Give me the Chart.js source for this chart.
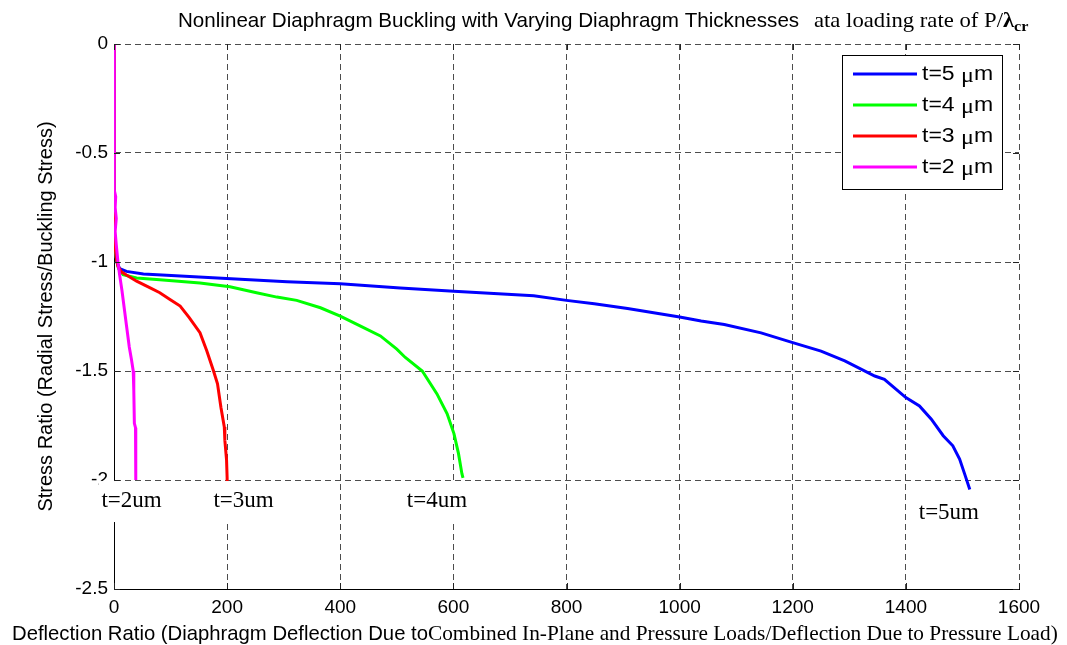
<!DOCTYPE html>
<html>
<head>
<meta charset="utf-8">
<script src="https://cdn.jsdelivr.net/npm/chart.js@4.4.0/dist/chart.umd.min.js"></script>
<style>
  html, body { margin: 0; padding: 0; background: #ffffff; }
  #wrap { width: 1067px; height: 645px; position: relative; }
  canvas { display: block; }
</style>
</head>
<body>
<div id="wrap"><canvas id="c" width="1067" height="645"></canvas></div>
<script>
// Deflection ratio (x) and stress ratio (y) for each diaphragm thickness
const t5Deflection = [0, 0, 0.5, 2, 5, 10, 22, 52, 93, 199, 306, 400, 506, 601, 742, 800, 849, 908, 1000, 1038, 1079, 1144, 1200, 1250, 1292, 1345, 1362, 1400, 1424, 1445, 1466, 1483, 1495, 1504, 1513];
const t5Stress     = [0, -0.5, -0.88, -0.95, -1.0, -1.03, -1.043, -1.055, -1.061, -1.076, -1.091, -1.100, -1.119, -1.134, -1.155, -1.176, -1.192, -1.213, -1.252, -1.271, -1.287, -1.325, -1.370, -1.409, -1.454, -1.523, -1.538, -1.622, -1.660, -1.721, -1.797, -1.843, -1.904, -1.973, -2.044];

const t4Deflection = [0, 0, 0.5, 2, 4, 8, 16, 40, 81, 152, 205, 252, 288, 323, 365, 400, 435, 471, 500, 515, 545, 571, 589, 601, 609, 615, 617];
const t4Stress     = [0, -0.5, -0.85, -0.93, -0.98, -1.03, -1.058, -1.073, -1.081, -1.096, -1.114, -1.141, -1.161, -1.176, -1.21, -1.248, -1.293, -1.339, -1.4, -1.438, -1.5, -1.605, -1.696, -1.787, -1.878, -1.97, -1.99];

const t3Deflection = [0, 0, 0.5, 2, 4, 7, 13, 22, 40, 64, 81, 99, 117, 133, 152, 164, 176, 183, 189, 195, 196, 199, 200, 200];
const t3Stress     = [0, -0.5, -0.85, -0.93, -0.98, -1.02, -1.045, -1.06, -1.088, -1.119, -1.141, -1.172, -1.202, -1.255, -1.324, -1.407, -1.5, -1.559, -1.666, -1.757, -1.818, -1.909, -1.99, -2.01];

const t2Deflection = [0, 0, 1, 3, 2, 4, 2, 4, 7, 10, 14, 18, 22, 27, 31, 34, 35, 36, 38, 38.5, 38.5];
const t2Stress     = [0, -0.5, -0.67, -0.70, -0.75, -0.80, -0.86, -0.92, -1.0, -1.06, -1.13, -1.21, -1.29, -1.39, -1.45, -1.5, -1.59, -1.74, -1.76, -1.9, -2.0];

const seriesLabels = ['t=5 μm', 't=4 μm', 't=3 μm', 't=2 μm'];
const seriesColors = ['#0000ff', '#00ff00', '#ff0000', '#ff00ff'];

const xTickValues = [0, 200, 400, 600, 800, 1000, 1200, 1400, 1600];
const yTickValues = [0, -0.5, -1, -1.5, -2, -2.5];

// Text tags placed below the end of each curve (data coordinates)
const tagTexts = ['t=2um', 't=3um', 't=4um', 't=5um'];
const tagX     = [31, 229, 571, 1476];
const tagY     = [-2.124, -2.124, -2.124, -2.179];

const SANS = '"Liberation Sans", Arial, sans-serif';
const SERIF = '"Liberation Serif", "Times New Roman", serif';

function toPoints(xs, ys) {
  return xs.map((x, i) => ({ x: x, y: ys[i] }));
}

const seriesData = [
  toPoints(t5Deflection, t5Stress),
  toPoints(t4Deflection, t4Stress),
  toPoints(t3Deflection, t3Stress),
  toPoints(t2Deflection, t2Stress)
];

const datasets = seriesData.map((pts, i) => ({
  label: seriesLabels[i],
  data: pts,
  borderColor: seriesColors[i],
  backgroundColor: seriesColors[i],
  borderWidth: 3,
  pointRadius: 0,
  tension: 0,
  fill: false,
  // later series are painted over earlier ones
  order: seriesLabels.length - i
}));

// draw a run of mixed-font segments starting at (x, y) on the baseline;
// sx stretches a segment horizontally
function drawRuns(ctx, runs, x, y) {
  let cx = x;
  runs.forEach(r => {
    const sx = r.sx || 1;
    ctx.font = r.font;
    ctx.save();
    ctx.translate(cx, y + (r.dy || 0));
    ctx.scale(sx, 1);
    ctx.fillText(r.text, 0, 0);
    ctx.restore();
    cx += ctx.measureText(r.text).width * sx;
  });
  return cx;
}

const decorPlugin = {
  id: 'decor',
  afterDraw(chart) {
    const ctx = chart.ctx;
    const area = chart.chartArea;
    const xs = chart.scales.x, ys = chart.scales.y;
    ctx.save();
    ctx.fillStyle = '#000';
    ctx.textAlign = 'left';
    ctx.textBaseline = 'alphabetic';

    // inward tick marks on all four sides
    ctx.strokeStyle = '#222';
    ctx.lineWidth = 1;
    ctx.setLineDash([]);
    const tl = 6;
    xTickValues.forEach(v => {
      const px = Math.round(xs.getPixelForValue(v)) + 0.5;
      ctx.beginPath();
      ctx.moveTo(px, area.bottom); ctx.lineTo(px, area.bottom - tl);
      ctx.moveTo(px, area.top); ctx.lineTo(px, area.top + tl);
      ctx.stroke();
    });
    yTickValues.forEach(v => {
      const py = Math.round(ys.getPixelForValue(v)) + 0.5;
      ctx.beginPath();
      ctx.moveTo(area.left, py); ctx.lineTo(area.left + tl, py);
      ctx.moveTo(area.right, py); ctx.lineTo(area.right - tl, py);
      ctx.stroke();
    });

    // tags under each curve, on a white box
    ctx.font = '23px ' + SERIF;
    tagTexts.forEach((t, i) => {
      const cx = xs.getPixelForValue(tagX[i]);
      const by = ys.getPixelForValue(tagY[i]);
      const w = ctx.measureText(t).width;
      ctx.fillStyle = '#fff';
      ctx.fillRect(cx - w / 2 - 3, by - 26, w + 6, 41);
      ctx.fillStyle = '#000';
      ctx.fillText(t, cx - w / 2, by);
    });

    // title
    drawRuns(ctx, [
      { text: 'Nonlinear Diaphragm Buckling with Varying Diaphragm Thicknesses', font: '20.6px ' + SANS }
    ], 178, 27);
    drawRuns(ctx, [
      { text: 'ata loading rate of P/', font: '21px ' + SERIF, sx: 1.08 },
      { text: 'λ', font: 'bold 21px ' + SERIF, sx: 1.08 },
      { text: 'cr', font: 'bold 15px ' + SERIF, dy: 4, sx: 1.08 }
    ], 814, 27);

    // x axis title
    const ex = drawRuns(ctx, [
      { text: 'Deflection Ratio (Diaphragm Deflection Due to', font: '20.3px ' + SANS }
    ], 12, 640);
    drawRuns(ctx, [
      { text: 'Combined In-Plane and Pressure Loads/Deflection Due to Pressure Load)', font: '21px ' + SERIF, sx: 1.015 }
    ], ex, 640);

    // y axis title
    ctx.save();
    ctx.translate(52, (area.top + area.bottom) / 2);
    ctx.rotate(-Math.PI / 2);
    ctx.textAlign = 'center';
    ctx.font = '20px ' + SANS;
    ctx.fillText('Stress Ratio (Radial Stress/Buckling Stress)', 0, 0);
    ctx.restore();

    // legend box
    const lx = 842, ly = 55, lw = 160, lh = 134;
    ctx.fillStyle = '#fff';
    ctx.fillRect(lx, ly, lw, lh);
    ctx.strokeStyle = '#000';
    ctx.lineWidth = 1;
    ctx.strokeRect(lx + 0.5, ly + 0.5, lw, lh);
    chart.data.datasets.forEach((ds, i) => {
      const yy = ly + 19 + i * 31;
      ctx.strokeStyle = ds.borderColor;
      ctx.lineWidth = 3;
      ctx.beginPath();
      ctx.moveTo(lx + 11, yy); ctx.lineTo(lx + 75, yy);
      ctx.stroke();
      ctx.fillStyle = '#000';
      ctx.textBaseline = 'middle';
      const parts = ds.label.split('μ');
      drawRuns(ctx, [
        { text: parts[0], font: '20px ' + SANS, sx: 1.15 },
        { text: 'μ', font: '21px ' + SERIF, dy: 2, sx: 1.15 },
        { text: parts[1], font: '20px ' + SANS, sx: 1.15 }
      ], lx + 80, yy);
      ctx.textBaseline = 'alphabetic';
    });

    ctx.restore();
  }
};

new Chart(document.getElementById('c'), {
  type: 'line',
  data: { datasets: datasets },
  options: {
    responsive: false,
    animation: false,
    events: [],
    layout: { padding: { left: 0, right: 48, top: 44, bottom: 0 } },
    plugins: {
      legend: { display: false },
      title: { display: false },
      tooltip: { enabled: false }
    },
    scales: {
      x: {
        type: 'linear',
        min: 0,
        max: 1600,
        afterBuildTicks: s => { s.ticks = xTickValues.map(v => ({ value: v })); },
        afterFit: s => { s.height = 56; },
        ticks: {
          color: '#000',
          font: { family: SANS, size: 19 },
          padding: 7,
          maxRotation: 0,
          autoSkip: false,
          callback: v => String(v)
        },
        grid: { color: '#4d4d4d', lineWidth: 1, drawTicks: false },
        border: { display: true, color: '#000', width: 1, dash: [6, 4] }
      },
      y: {
        type: 'linear',
        min: -2.5,
        max: 0,
        afterBuildTicks: s => { s.ticks = yTickValues.map(v => ({ value: v })); },
        afterFit: s => { s.width = 114; },
        ticks: {
          color: '#000',
          font: { family: SANS, size: 19 },
          padding: 6,
          autoSkip: false,
          callback: v => String(v)
        },
        grid: { color: '#4d4d4d', lineWidth: 1, drawTicks: false },
        border: { display: true, color: '#000', width: 1, dash: [6, 4] }
      }
    }
  },
  plugins: [decorPlugin]
});
</script>
</body>
</html>
